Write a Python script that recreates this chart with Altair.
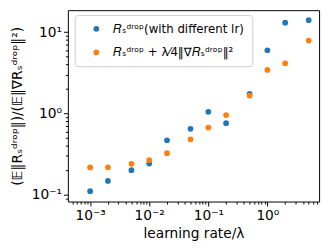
import altair as alt
import pandas as pd

# learning rate / lambda values
lr = [0.001, 0.002, 0.005, 0.01, 0.02, 0.05, 0.1, 0.2, 0.5, 1, 2, 5]
# R_S^drop with different lr
blue_vals = [0.110, 0.147, 0.200, 0.241, 0.467, 0.646, 1.045, 0.757, 1.745, 6.0, 13.1, 14.1]
# R_S^drop + lambda/4 ||grad R||^2
orange_vals = [0.216, 0.217, 0.239, 0.265, 0.324, 0.480, 0.67, 0.953, 1.66, 3.43, 4.14, 7.9]

s1 = "𝑅ₛᵈʳᵒᵖ(with different lr)"
s2 = "𝑅ₛᵈʳᵒᵖ + λ⁄4‖∇𝑅ₛᵈʳᵒᵖ‖²"
series_names = [s1, s2]
colors = ["#1f77b4", "#ff7f0e"]

x_major = [1e-3, 1e-2, 1e-1, 1]
x_minor = [5e-4, 6e-4, 7e-4, 8e-4, 9e-4,
           2e-3, 3e-3, 4e-3, 5e-3, 6e-3, 7e-3, 8e-3, 9e-3,
           2e-2, 3e-2, 4e-2, 5e-2, 6e-2, 7e-2, 8e-2, 9e-2,
           0.2, 0.3, 0.4, 0.5, 0.6, 0.7, 0.8, 0.9,
           2, 3, 4, 5, 6, 7]
y_major = [0.1, 1, 10]
y_minor = [0.09, 0.2, 0.3, 0.4, 0.5, 0.6, 0.7, 0.8, 0.9, 2, 3, 4, 5, 6, 7, 8, 9]

x_title = "learning rate/λ"
y_title = "(𝔼‖Rₛᵈʳᵒᵖ‖)/(𝔼‖∇Rₛᵈʳᵒᵖ‖²)"

df = pd.DataFrame({
    "lr": lr + lr,
    "val": blue_vals + orange_vals,
    "series": [s1] * len(lr) + [s2] * len(lr),
})

LOG = "round(log(datum.value)/LN10)"
DECADE = f"abs(log(datum.value)/LN10 - {LOG}) < 1e-6"
LABEL = (f"{DECADE} ? '10' + ({LOG} < 0 ? '⁻' : '') + "
         f"['⁰','¹','²','³'][abs({LOG})] : ''")

tick_size = {"condition": {"test": DECADE, "value": 4.5}, "value": 2.5}

xaxis = alt.Axis(values=x_major + x_minor, labelExpr=LABEL, tickSize=tick_size,
                 labelOverlap=False, labelPadding=3, titlePadding=4)
yaxis = alt.Axis(values=y_major + y_minor, labelExpr=LABEL, tickSize=tick_size,
                 labelOverlap=False, labelPadding=2, titlePadding=7)

chart = alt.Chart(df).mark_circle(size=34, opacity=1).encode(
    x=alt.X("lr:Q", scale=alt.Scale(type="log", domain=[4.2e-4, 7.5], nice=False),
            axis=xaxis, title=x_title),
    y=alt.Y("val:Q", scale=alt.Scale(type="log", domain=[0.082, 18.7], nice=False),
            axis=yaxis, title=y_title),
    color=alt.Color("series:N", scale=alt.Scale(domain=series_names, range=colors),
                    legend=alt.Legend(title=None, orient="none", legendX=7, legendY=5,
                                      fillColor="white", strokeColor="#cccccc",
                                      cornerRadius=3, padding=8, labelFontSize=12,
                                      labelFont="DejaVu Sans", labelColor="black",
                                      symbolType="circle", symbolSize=34,
                                      symbolOffset=8, labelOffset=11, rowPadding=12,
                                      labelLimit=400, symbolStrokeWidth=0)),
).properties(
    width=256, height=195,
    padding={"left": 61, "top": 0, "right": 5, "bottom": 40},
    autosize="none",
).configure_view(
    stroke="black", strokeWidth=1
).configure_axis(
    domain=False, grid=False, tickColor="black", labelColor="black",
    labelFont="DejaVu Sans", labelFontSize=14, titleFont="DejaVu Sans",
    titleFontSize=14, titleFontWeight="normal", titleColor="black",
)

chart.save("out.html", embed_options={"renderer": "svg", "actions": False})
